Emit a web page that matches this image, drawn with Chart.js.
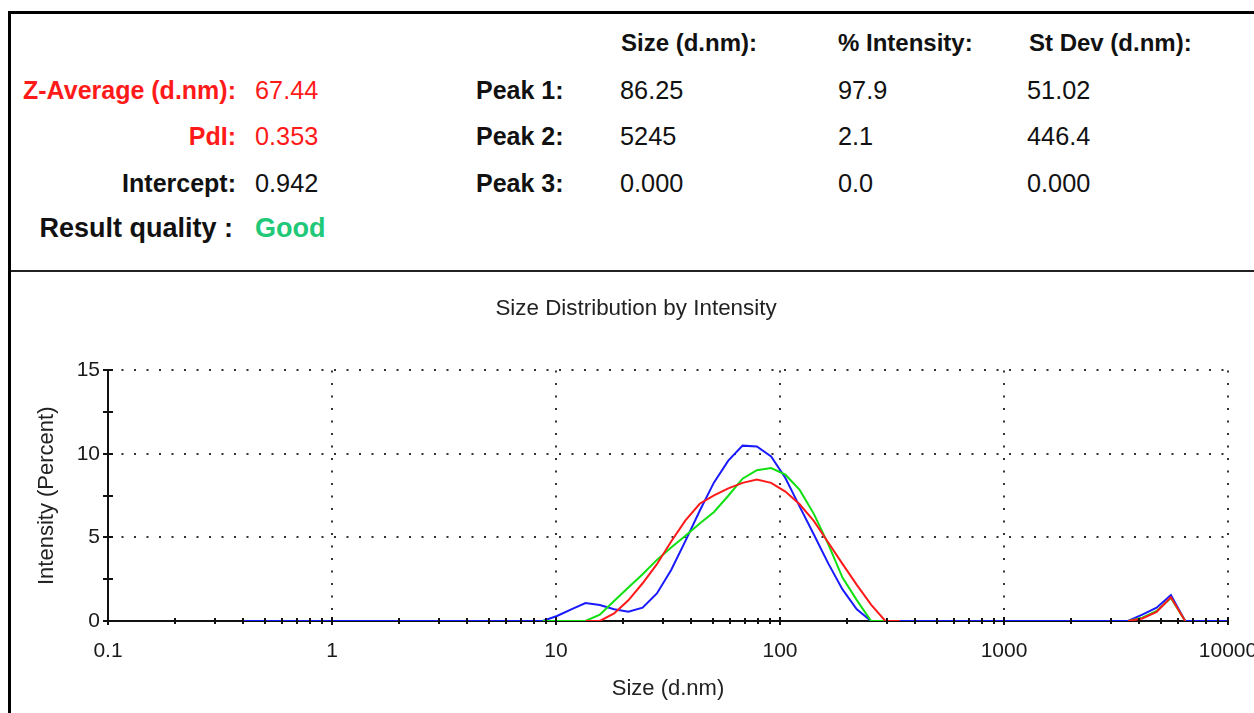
<!DOCTYPE html>
<html>
<head>
<meta charset="utf-8">
<title>Size Distribution by Intensity</title>
<script src="https://cdn.jsdelivr.net/npm/chart.js@4/dist/chart.umd.min.js"></script>
<style>
  html, body { margin: 0; padding: 0; background: #fff; overflow: hidden; }
  body { width: 1254px; height: 713px; position: relative; }
  #frame-left { position: absolute; left: 8px; top: 11px; width: 3px; height: 702px; background: #000; }
  #frame-top { position: absolute; left: 8px; top: 11px; width: 1246px; height: 3px; background: #000; }
  #divider { position: absolute; left: 11px; top: 270px; width: 1243px; height: 2px; background: #222; }
  #summary { position: absolute; left: 0; top: 0; }
  #chart-box { position: absolute; left: 0; top: 272px; width: 1272px; height: 441px; }
</style>
</head>
<body>
<div id="frame-left"></div>
<div id="frame-top"></div>
<div id="divider"></div>

<svg id="summary" width="1254" height="270" font-family="Liberation Sans, Arial, sans-serif">
  <!-- left block -->
  <g font-size="25" font-weight="bold" text-anchor="end">
    <text x="236" y="99" fill="#ff1a1a">Z-Average (d.nm):</text>
    <text x="236" y="145" fill="#ff1a1a">PdI:</text>
    <text x="236" y="192" fill="#111">Intercept:</text>
  </g>
  <text x="233" y="237" font-size="27" font-weight="bold" text-anchor="end" fill="#111">Result quality :</text>
  <g font-size="25.3">
    <text x="255" y="99" fill="#ff1a1a">67.44</text>
    <text x="255" y="145" fill="#ff1a1a">0.353</text>
    <text x="255" y="192" fill="#111">0.942</text>
  </g>
  <text x="255" y="237" font-size="27" font-weight="bold" fill="#20c878">Good</text>

  <!-- peak table -->
  <g font-size="24" font-weight="bold" fill="#111">
    <text x="621" y="51">Size (d.nm):</text>
    <text x="838" y="51">% Intensity:</text>
    <text x="1029" y="51">St Dev (d.nm):</text>
  </g>
  <g font-size="25" font-weight="bold" fill="#111">
    <text x="476" y="99">Peak 1:</text>
    <text x="476" y="145">Peak 2:</text>
    <text x="476" y="192">Peak 3:</text>
  </g>
  <g font-size="25.3" fill="#111">
    <text x="620" y="99">86.25</text>
    <text x="838" y="99">97.9</text>
    <text x="1027" y="99">51.02</text>
    <text x="620" y="145">5245</text>
    <text x="838" y="145">2.1</text>
    <text x="1027" y="145">446.4</text>
    <text x="620" y="192">0.000</text>
    <text x="838" y="192">0.0</text>
    <text x="1027" y="192">0.000</text>
  </g>
</svg>

<div id="chart-box"><canvas id="sizeChart"></canvas></div>

<script>
// size classes (d.nm), 70 bins
const sizes = [
  0.4, 0.4632, 0.5365, 0.6213, 0.7195, 0.8332, 0.965, 1.117, 1.294, 1.499,
  1.736, 2.01, 2.328, 2.696, 3.122, 3.615, 4.187, 4.849, 5.615, 6.503,
  7.531, 8.721, 10.1, 11.7, 13.54, 15.69, 18.17, 21.04, 24.36, 28.21,
  32.67, 37.84, 43.82, 50.75, 58.77, 68.06, 78.82, 91.28, 105.7, 122.4,
  141.8, 164.2, 190.1, 220.2, 255, 295.3, 342, 396.1, 458.7, 531.2,
  615.1, 712.4, 825, 955.4, 1106, 1281, 1484, 1718, 1990, 2305,
  2669, 3091, 3580, 4145, 4801, 5560, 6439, 7456, 8635, 10000
];

// intensity (%) per record, null = not drawn
const record1 = [ // red
  null, null, null, null, null, null, null, null, null, null,
  null, null, null, null, null, null, null, null, null, null,
  null, null, null, null, 0, 0, 0.45, 1.24, 2.26, 3.4,
  4.76, 6.02, 7.02, 7.52, 7.94, 8.27, 8.47, 8.27, 7.75, 6.99,
  5.98, 4.7, 3.42, 2.16, 0.98, 0, 0, null, null, null,
  null, null, null, null, null, null, null, null, null, null,
  null, null, 0, 0.15, 0.55, 1.42, 0, null, null, null
];
const record2 = [ // green
  null, null, null, null, null, null, null, null, null, null,
  null, null, null, null, null, null, null, null, null, null,
  null, 0, 0, 0, 0, 0.38, 1.2, 2.0, 2.8, 3.66,
  4.4, 5.1, 5.84, 6.53, 7.5, 8.52, 9.03, 9.16, 8.76, 7.85,
  6.4, 4.6, 2.6, 1.25, 0, 0, null, null, null, null,
  null, null, null, null, null, null, null, null, null, null,
  null, null, 0, 0.2, 0.6, 1.38, 0, null, null, null
];
const record3 = [ // blue
  0, 0, 0, 0, 0, 0, 0, 0, 0, 0,
  0, 0, 0, 0, 0, 0, 0, 0, 0, 0,
  0, 0, 0.3, 0.7, 1.07, 0.96, 0.7, 0.56, 0.8, 1.65,
  3.05, 4.8, 6.6, 8.3, 9.6, 10.5, 10.45, 9.85, 8.56, 6.85,
  5.16, 3.45, 1.89, 0.7, 0, 0, 0, 0, 0, 0,
  0, 0, 0, 0, 0, 0, 0, 0, 0, 0,
  0, 0, 0, 0.38, 0.8, 1.55, 0, 0, 0, 0
];

const xDecades = [0.1, 1, 10, 100, 1000, 10000];
const xTickLabels = ['0.1', '1', '10', '100', '1000', '10000'];
const xMinorSteps = [2, 3, 4, 5, 6, 7, 8, 9];
const yTickValues = [0, 5, 10, 15];
const yTickLabels = ['0', '5', '10', '15'];
const yMinorValues = [2.5, 7.5, 12.5];

const FONT = "'Liberation Sans', Arial, sans-serif";
Chart.defaults.font.family = FONT;
Chart.defaults.color = '#1a1a1a';

function decadeIndex(v) {
  return xDecades.findIndex(d => Math.abs(d - v) < d * 1e-6);
}

function points(values) {
  return sizes.map((s, i) => ({ x: s, y: values[i] }));
}

// little tick marks crossing both axes, drawn over the curves
const axisTicks = {
  id: 'axisTicks',
  afterDatasetsDraw(chart) {
    const { ctx, scales: { x, y } } = chart;
    ctx.save();
    ctx.strokeStyle = '#111';
    ctx.lineWidth = 2;
    ctx.beginPath();
    x.ticks.forEach(t => {
      const px = Math.round(x.getPixelForValue(t.value));
      const len = decadeIndex(t.value) >= 0 ? 4 : 3;
      ctx.moveTo(px, y.bottom - len);
      ctx.lineTo(px, y.bottom + len);
    });
    y.ticks.forEach(t => {
      const py = Math.round(y.getPixelForValue(t.value));
      ctx.moveTo(x.left - 5, py);
      ctx.lineTo(x.left + 5, py);
    });
    ctx.stroke();
    ctx.restore();
  }
};

const lineStyle = { borderWidth: 2, pointRadius: 0, tension: 0, fill: false, spanGaps: false };

new Chart(document.getElementById('sizeChart'), {
  type: 'line',
  data: {
    datasets: [
      { ...lineStyle, label: 'Record 3', data: points(record3), borderColor: '#1a1aff', order: 3 },
      { ...lineStyle, label: 'Record 2', data: points(record2), borderColor: '#10e010', order: 2 },
      { ...lineStyle, label: 'Record 1', data: points(record1), borderColor: '#ff1a1a', order: 1 }
    ]
  },
  options: {
    responsive: true,
    maintainAspectRatio: false,
    animation: false,
    // left padding 44 so the title centres over the same spot as the original
    layout: { padding: { left: 44, right: 44, top: 0, bottom: 0 } },
    plugins: {
      legend: { display: false },
      tooltip: { enabled: false },
      title: {
        display: true,
        text: 'Size Distribution by Intensity',
        color: '#222',
        font: { size: 22.4, weight: 'normal' },
        padding: { top: 23.5, bottom: 48.1 }
      }
    },
    scales: {
      x: {
        type: 'logarithmic',
        min: 0.1,
        max: 10000,
        afterBuildTicks(scale) {
          const ticks = [];
          xDecades.forEach((d, i) => {
            ticks.push({ value: d });
            if (i < xDecades.length - 1) xMinorSteps.forEach(m => ticks.push({ value: d * m }));
          });
          scale.ticks = ticks;
        },
        afterFit(scale) {
          scale.height = 92;
          scale.paddingLeft = 0;
          scale.paddingRight = 0;
        },
        ticks: {
          autoSkip: false,
          maxRotation: 0,
          minRotation: 0,
          padding: 18,
          font: { size: 21 },
          callback: value => {
            const k = decadeIndex(value);
            return k >= 0 ? xTickLabels[k] : '';
          }
        },
        grid: {
          drawTicks: false,
          lineWidth: 2,
          color: c => (c.tick && decadeIndex(c.tick.value) > 0) ? '#333' : 'rgba(0,0,0,0)'
        },
        border: { display: true, color: '#111', width: 2, dash: [2, 10.5] },
        title: {
          display: true,
          text: 'Size (d.nm)',
          color: '#222',
          font: { size: 22 },
          padding: { top: 0, bottom: 10.8 }
        }
      },
      y: {
        type: 'linear',
        min: 0,
        max: 15,
        afterBuildTicks(scale) {
          scale.ticks = yTickValues.concat(yMinorValues).sort((a, b) => a - b).map(v => ({ value: v }));
        },
        afterFit(scale) {
          scale.width = 64;
        },
        ticks: {
          padding: 8,
          font: { size: 21 },
          callback: value => {
            const k = yTickValues.indexOf(value);
            return k >= 0 ? yTickLabels[k] : '';
          }
        },
        grid: {
          drawTicks: false,
          lineWidth: 2,
          color: c => (c.tick && c.tick.value > 0 && yTickValues.includes(c.tick.value)) ? '#333' : 'rgba(0,0,0,0)'
        },
        border: { display: true, color: '#111', width: 2, dash: [2, 10.5] },
        title: {
          display: true,
          text: 'Intensity (Percent)',
          color: '#222',
          font: { size: 22 },
          padding: { top: -10.7, bottom: 0 }
        }
      }
    }
  },
  plugins: [axisTicks]
});
</script>
</body>
</html>
